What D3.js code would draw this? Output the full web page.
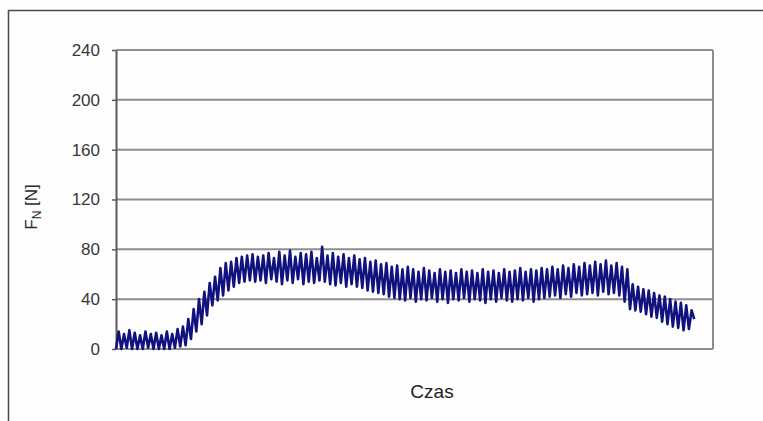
<!DOCTYPE html>
<html>
<head>
<meta charset="utf-8">
<script src="https://cdn.jsdelivr.net/npm/d3@7"></script>
<style>
  body { margin: 0; background: #fff; }
  svg { display: block; }
</style>
</head>
<body>
<script>
// y axis ticks
var yTicks = [0, 40, 80, 120, 160, 200, 240];
// one peak and one trough per oscillation
var peaks = [
  14, 12, 15, 13, 11, 14, 12, 13, 11, 14, 12, 16, 18,
  24, 32, 40, 46, 53, 58, 65, 69, 70, 73, 74, 75, 76, 74, 75,
  77, 73, 78, 75, 79, 74, 77, 76, 78, 73, 82,
  75, 77, 74, 76, 73, 75, 72, 73, 70, 71, 68, 69, 66, 67, 64, 66, 64, 62, 65,
  63, 61, 64, 62, 63, 61, 64, 62, 63, 61, 64, 62, 63, 61, 64, 62, 63, 65, 62, 64, 63, 65, 64,
  66, 64, 67, 65, 68, 66, 69, 67, 70, 68, 71, 67, 69, 66, 64,
  52, 50, 48, 47, 45, 43, 42, 40, 38, 37, 35, 31
];
var troughs = [
  0, 0, 1, 0, 0, 0, 1, 0, 0, 0, 0, 1, 2,
  3, 8, 14, 20, 27, 35, 39, 43, 47, 50, 53, 54, 55, 54, 55,
  53, 56, 54, 52, 55, 53, 56, 52, 54, 53, 55,
  54, 52, 51, 53, 50, 52, 50, 49, 47, 46, 45, 44, 42, 41, 40, 39, 41, 38, 40,
  39, 41, 38, 40, 37, 40, 39, 41, 38, 40, 39, 37, 40, 38, 41, 39, 38, 40, 39, 41, 38, 40, 41,
  42, 43, 41, 44, 42, 45, 43, 44, 45, 43, 46, 44, 45, 43, 38,
  32, 31, 30, 28, 26, 25, 22, 20, 18, 17, 15, 16
];
var lastValue = 24;
var categoryCount = 223;
var xTitle = "Czas";

var width = 763;
var height = 421;
var plot = { left: 116, top: 50, right: 713, bottom: 349 };

// series: trough, peak, trough, peak ...
var values = [];
peaks.forEach(function (p, i) {
    values.push(troughs[i]);
    values.push(p);
});
values.push(lastValue);

var svg = d3.select("body")
    .append("svg")
    .attr("width", width)
    .attr("height", height);

svg.append("rect")
    .attr("width", width)
    .attr("height", height)
    .style("fill", "#fefefe");

// outer chart frame (right and bottom edges fall outside the picture)
svg.append("rect")
    .attr("x", 8.5)
    .attr("y", 10.5)
    .attr("width", 800)
    .attr("height", 500)
    .style("fill", "none")
    .style("stroke", "#4a4a4a")
    .style("stroke-width", 1.5);

var x = d3.scaleLinear()
    .domain([0, categoryCount])
    .range([plot.left, plot.right]);
var y = d3.scaleLinear()
    .domain([0, 240])
    .range([plot.bottom, plot.top]);

// gridlines
svg.append("g")
    .selectAll("line")
    .data(yTicks)
    .enter().append("line")
    .attr("x1", plot.left)
    .attr("x2", plot.right)
    .attr("y1", function (d) { return y(d); })
    .attr("y2", function (d) { return y(d); })
    .style("stroke", "#8e8e8e")
    .style("stroke-width", 2);

// right edge of plot area
svg.append("line")
    .attr("x1", plot.right)
    .attr("x2", plot.right)
    .attr("y1", plot.top)
    .attr("y2", plot.bottom)
    .style("stroke", "#8e8e8e")
    .style("stroke-width", 2);

var yAxis = svg.append("g")
    .attr("transform", "translate(" + plot.left + ",0)")
    .call(d3.axisLeft(y).tickValues(yTicks).tickSize(4).tickPadding(12).tickSizeOuter(0));
yAxis.select(".domain").style("stroke", "#5a5a5a").style("stroke-width", 2);
yAxis.selectAll(".tick line").style("stroke", "#5a5a5a").style("stroke-width", 1.5);
yAxis.selectAll("text")
    .style("font-family", "'Liberation Sans', Arial, sans-serif")
    .style("font-size", "17px")
    .style("fill", "#383838");

var line = d3.line()
    .x(function (d, i) { return x(i); })
    .y(function (d) { return y(d); });

svg.append("path")
    .datum(values)
    .attr("d", line)
    .style("fill", "none")
    .style("stroke", "#12127e")
    .style("stroke-width", 2.6)
    .style("stroke-linejoin", "round");

// axis titles
var yLabel = svg.append("text")
    .attr("transform", "translate(37,207) rotate(-90)")
    .attr("text-anchor", "middle")
    .style("font-family", "'Liberation Sans', Arial, sans-serif")
    .style("font-size", "17px")
    .style("fill", "#2a2a2a");
yLabel.append("tspan").text("F");
yLabel.append("tspan").attr("dy", 4).style("font-size", "12px").text("N");
yLabel.append("tspan").attr("dy", -4).text(" [N]");

svg.append("text")
    .attr("x", 432)
    .attr("y", 398)
    .attr("text-anchor", "middle")
    .style("font-family", "'Liberation Sans', Arial, sans-serif")
    .style("font-size", "19px")
    .style("fill", "#222")
    .text(xTitle);
</script>
</body>
</html>
